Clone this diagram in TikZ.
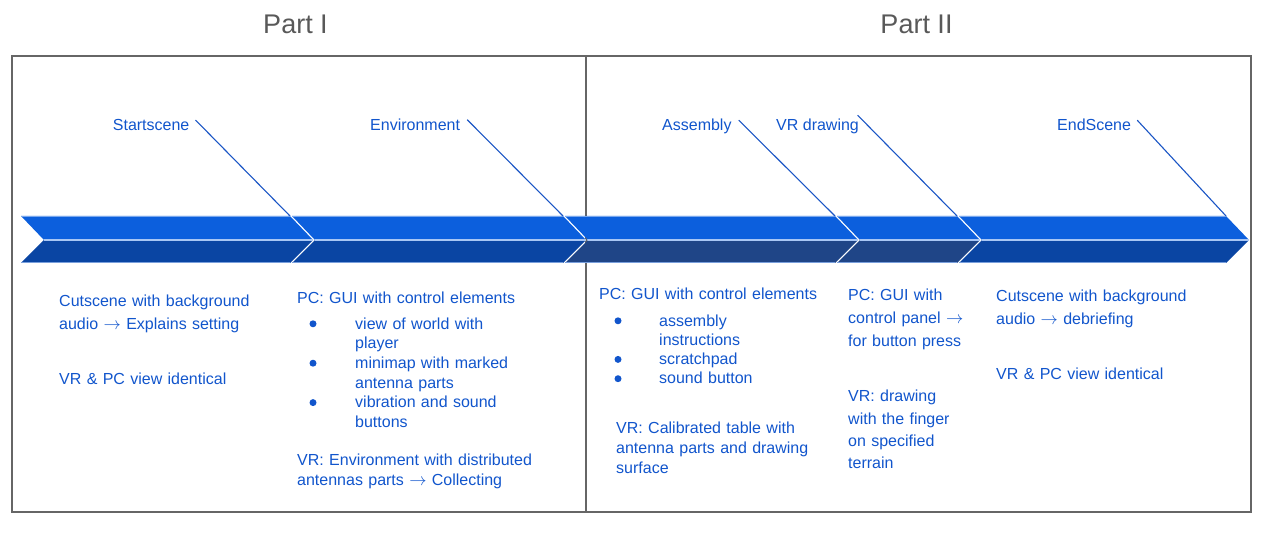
\documentclass[tikz,border=0pt]{standalone}
\usepackage{fontspec}
\setmainfont{Liberation Sans}
\definecolor{txtblue}{HTML}{1155CC}
\definecolor{leadblue}{HTML}{1A55C5}
\definecolor{topblue}{HTML}{0C5FDD}
\definecolor{darkblue}{HTML}{0A45A3}
\definecolor{greyblue}{HTML}{1F4587}
\definecolor{edgeblue}{HTML}{A8C6F4}
\definecolor{framegrey}{HTML}{666666}
\definecolor{titlegrey}{HTML}{595959}
\newcommand{\arr}{\ensuremath{\rightarrow}}

\begin{document}
\begin{tikzpicture}[x=1pt, y=-1pt,
		txt/.style={font=\fontsize{16}{#1}\selectfont, text=txtblue, anchor=base west, inner sep=0pt, align=left, text width=260pt},
		txt/.default=22.6,
		lbl/.style={font=\fontsize{16}{19}\selectfont, text=txtblue, anchor=base west, inner sep=0pt},
		lead/.style={draw=leadblue, line width=1.1pt},
		dot/.style={circle, fill=txtblue, inner sep=0pt, minimum size=7pt},
		title/.style={font=\fontsize{27}{30}\selectfont, text=titlegrey, anchor=base, inner sep=0pt}]
		\useasboundingbox (0,0) rectangle (1267,548);
		% frame
		\draw[framegrey, line width=1.3pt] (12,56) rectangle (1251,512);
		\draw[framegrey, line width=1.3pt] (586,56) -- (586,512);
		\node[title] (part1) at (295.5,33.3) {Part I};
		\node[title] (part2) at (916.5,33.3) {Part II};
		% chevrons: left x, right x, lower colour
		\foreach \a/\b/\col in {21/290/darkblue, 292/563/darkblue, 565/835/greyblue, 837/957/greyblue, 959/1226/darkblue} {
			\fill[topblue] (\a,216) -- (\b,216) -- (\b+23,240) -- (\a+23,240) -- cycle;
			\fill[\col] (\a+23,240) -- (\b+23,240) -- (\b,263) -- (\a,263) -- cycle;
			\draw[edgeblue, line width=1.6pt] (\a+23,240) -- (\b+23,240);
			\draw[edgeblue!70!topblue, line width=0.7pt] (\a,216.4) -- (\b,216.4);
			\draw[edgeblue!70!darkblue, line width=0.7pt] (\a,262.6) -- (\b,262.6);
		}
		\coordinate (k1) at (290,216);
		\coordinate (k2) at (563,216);
		\coordinate (k3) at (835,216);
		\coordinate (k4) at (957,216);
		\coordinate (k5) at (1226,216);
		% scene labels
		\node[lbl] (start) at (112.7,130.5) {Startscene};
		\node[lbl] (env) at (370,130.5) {Environment};
		\node[lbl] (asm) at (662,131) {Assembly};
		\node[lbl] (vrdraw) at (776,131) {VR drawing};
		\node[lbl] (endsc) at (1057,131) {EndScene};
		\draw[lead] ([xshift=6pt, yshift=-1pt]start.north east) -- (k1);
		\draw[lead] ([xshift=7pt, yshift=-1pt]env.north east) -- (k2);
		\draw[lead] ([xshift=7pt, yshift=-1pt]asm.north east) -- (k3);
		\draw[lead] ([xshift=-1.5pt, yshift=4pt]vrdraw.north east) -- (k4);
		\draw[lead] ([xshift=6pt, yshift=-1pt]endsc.north east) -- (k5);
		% Part I texts
		\node[txt] (cut1) at (59,306.7) {Cutscene with background\\audio \arr{} Explains setting};
		\node[txt] (same1) at (59,384) {VR \& PC view identical};
		\node[txt] (pc1) at (297,303.3) {PC: GUI with control elements};
		\node[txt=19.7] (items1) at (355,329) {view of world with\\player\\minimap with marked\\antenna parts\\vibration and sound\\buttons};
		\foreach \y/\n in {323.8/a, 363.2/b, 402.6/c}
			\node[dot] (dot1\n) at (313,\y) {};
		\node[txt=20] (vr1) at (297,465.7) {VR: Environment with distributed\\antennas parts \arr{} Collecting};
		% Part II texts
		\node[txt] (pc2) at (599,299.3) {PC: GUI with control elements};
		\node[txt=19.3] (items2) at (659,326) {assembly\\instructions\\scratchpad\\sound button};
		\foreach \y/\n in {320.8/a, 359.4/b, 378.7/c}
			\node[dot] (dot2\n) at (618,\y) {};
		\node[txt=20] (vr2) at (616,433.3) {VR: Calibrated table with\\antenna parts and drawing\\surface};
		\node[txt=23] (pc3) at (848,300.7) {PC: GUI with\\control panel \arr\\for button press};
		\node[txt=22.3] (vr3) at (848,401.7) {VR: drawing\\with the finger\\on specified\\terrain};
		\node[txt] (cut2) at (996,301.7) {Cutscene with background\\audio \arr{} debriefing};
		\node[txt] (same2) at (996,379) {VR \& PC view identical};
	\end{tikzpicture}
\end{document}
